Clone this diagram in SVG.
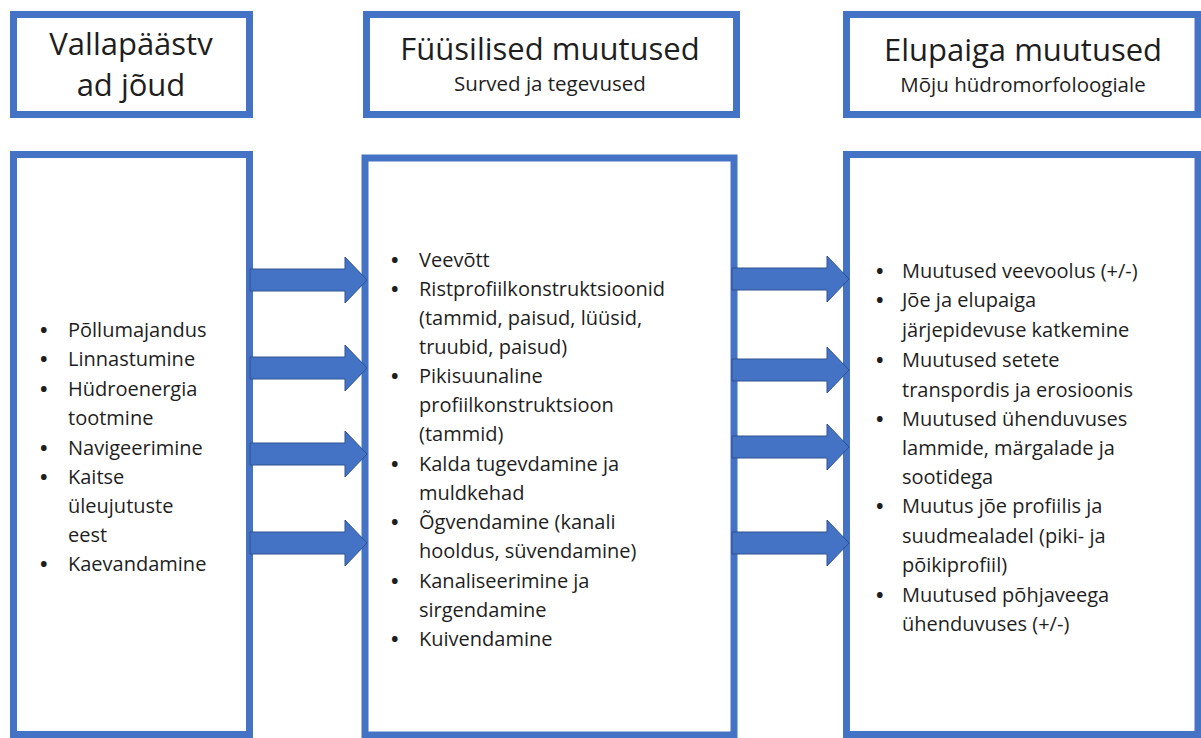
<svg xmlns="http://www.w3.org/2000/svg" width="1201" height="738" viewBox="0 0 1201 738">
<style>
.box{fill:#fff;stroke:#4472C4;stroke-width:7}
.h{font-family:"Open Sans","Noto Sans",sans-serif;font-size:31px;fill:#1e1e1e;text-anchor:middle}
.s{font-family:"Open Sans","Noto Sans",sans-serif;font-size:20.5px;fill:#1e1e1e;text-anchor:middle}
.t{font-family:"Open Sans","Noto Sans",sans-serif;font-size:20px;fill:#1e1e1e}
.b{font-weight:bold}
.arr{fill:#4472C4;stroke:#2F528F;stroke-width:1}
</style>
<defs>
<path id="arrow" class="arr" d="M0,-11 H95 V-23 L117,0 L95,23 V11 H0 Z"/>
</defs>
<rect width="1201" height="738" fill="#fff"/>
<g id="head-drivers">
<rect class="box" x="13.5" y="14.5" width="236" height="100"/>
<text class="h" x="131" y="55">Vallapäästv</text>
<text class="h" x="131" y="96">ad jõud</text>
</g>
<g id="head-physical">
<rect class="box" x="366.5" y="14.5" width="370" height="100"/>
<text class="h" x="550" y="60">Füüsilised muutused</text>
<text class="s" x="550" y="91">Surved ja tegevused</text>
</g>
<g id="head-habitat">
<rect class="box" x="846.5" y="14.5" width="351.5" height="100"/>
<text class="h" x="1023" y="61">Elupaiga muutused</text>
<text class="s" x="1023" y="92">Mõju hüdromorfoloogiale</text>
</g>
<g id="drivers">
<rect class="box" x="13.5" y="154.5" width="236" height="580"/>
<g class="t">
<text class="b" x="40" y="337">•</text><text x="68" y="337">Põllumajandus</text>
<text class="b" x="40" y="366">•</text><text x="68" y="366">Linnastumine</text>
<text class="b" x="40" y="396">•</text><text x="68" y="396">Hüdroenergia</text>
<text x="68" y="425">tootmine</text>
<text class="b" x="40" y="455">•</text><text x="68" y="455">Navigeerimine</text>
<text class="b" x="40" y="484">•</text><text x="68" y="484">Kaitse</text>
<text x="68" y="513">üleujutuste</text>
<text x="68" y="542">eest</text>
<text class="b" x="40" y="571">•</text><text x="68" y="571">Kaevandamine</text>
</g>
</g>
<g id="physical">
<rect class="box" x="365" y="158" width="369" height="577"/>
<g class="t" xml:space="preserve">
<text class="b" x="391" y="267">•</text><text x="419" y="267">Veevõtt</text>
<text class="b" x="391" y="296">•</text><text x="419" y="296">Ristprofiilkonstruktsioonid</text>
<text x="419" y="325">(tammid, paisud, lüüsid,</text>
<text x="419" y="354">truubid, paisud)</text>
<text class="b" x="391" y="383">•</text><text x="419" y="383">Pikisuunaline</text>
<text x="419" y="412">profiilkonstruktsioon</text>
<text x="419" y="441">(tammid)</text>
<text class="b" x="391" y="471">•</text><text x="419" y="471">Kalda tugevdamine ja</text>
<text x="419" y="500">muldkehad</text>
<text class="b" x="391" y="529">•</text><text x="419" y="529">Õgvendamine (kanali</text>
<text x="419" y="558">hooldus,  süvendamine)</text>
<text class="b" x="391" y="588">•</text><text x="419" y="588">Kanaliseerimine  ja</text>
<text x="419" y="617">sirgendamine</text>
<text class="b" x="391" y="646">•</text><text x="419" y="646">Kuivendamine</text>
</g>
</g>
<g id="habitat">
<rect class="box" x="846.5" y="154.5" width="351.5" height="580"/>
<g class="t" xml:space="preserve">
<text class="b" x="876" y="278">•</text><text x="902" y="278">Muutused veevoolus  (+/-)</text>
<text class="b" x="876" y="307">•</text><text x="902" y="307">Jõe ja elupaiga</text>
<text x="902" y="337">järjepidevuse  katkemine</text>
<text class="b" x="876" y="367">•</text><text x="902" y="367">Muutused setete</text>
<text x="902" y="397">transpordis ja erosioonis</text>
<text class="b" x="876" y="426">•</text><text x="902" y="426">Muutused ühenduvuses</text>
<text x="902" y="455">lammide, märgalade ja</text>
<text x="902" y="484">sootidega</text>
<text class="b" x="876" y="513">•</text><text x="902" y="513">Muutus jõe profiilis ja</text>
<text x="902" y="543">suudmealadel (piki- ja</text>
<text x="902" y="572">põikiprofiil)</text>
<text class="b" x="876" y="602">•</text><text x="902" y="602">Muutused põhjaveega</text>
<text x="902" y="631">ühenduvuses  (+/-)</text>
</g>
</g>
<g id="connectors">
<use href="#arrow" x="250" y="280"/>
<use href="#arrow" x="250" y="368"/>
<use href="#arrow" x="250" y="454"/>
<use href="#arrow" x="250" y="543"/>
<use href="#arrow" x="732" y="279"/>
<use href="#arrow" x="732" y="370"/>
<use href="#arrow" x="732" y="447"/>
<use href="#arrow" x="732" y="543"/>
</g>
</svg>
